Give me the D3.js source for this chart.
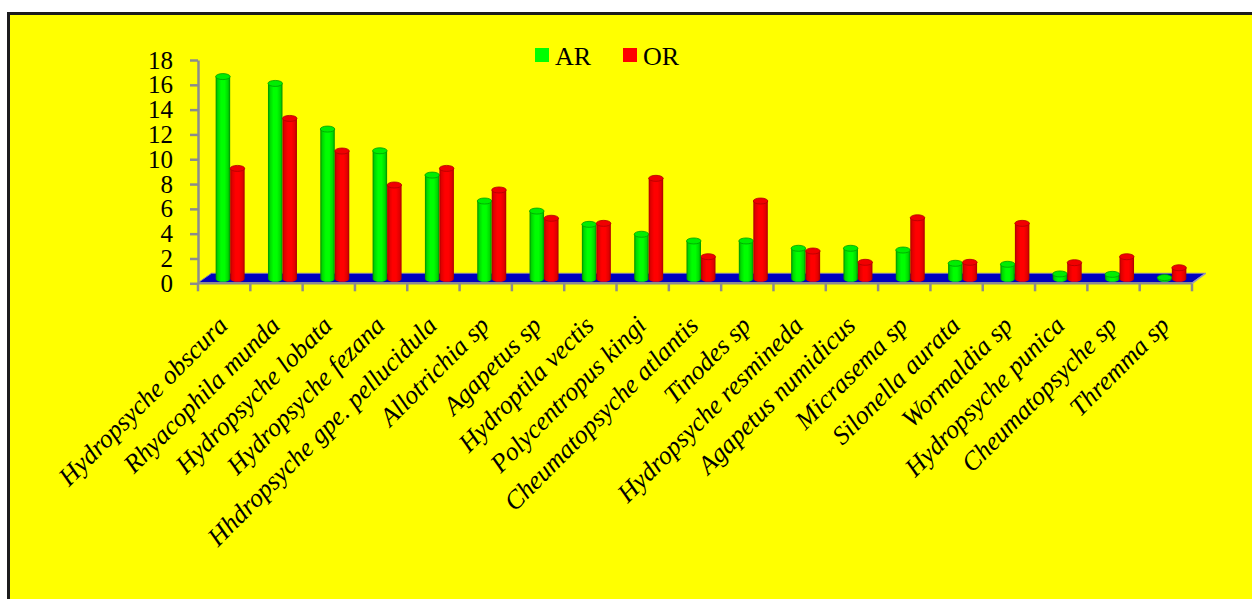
<!DOCTYPE html>
<html>
<head>
<meta charset="utf-8">
<script src="https://cdn.jsdelivr.net/npm/d3@7"></script>
<style>
  html, body { margin: 0; padding: 0; background: #ffffff; }
  svg { display: block; }
</style>
</head>
<body>
<svg id="chart" width="1252" height="599"></svg>
<script>
// Caddisfly taxa and their AR / OR percentages
const categories = [
  "Hydropsyche obscura", "Rhyacophila munda", "Hydropsyche lobata",
  "Hydropsyche fezana", "Hhdropsyche gpe. pellucidula", "Allotrichia sp",
  "Agapetus sp", "Hydroptila vectis", "Polycentropus kingi",
  "Cheumatopsyche atlantis", "Tinodes sp", "Hydropsyche resmineda",
  "Agapetus numidicus", "Micrasema sp", "Silonella aurata",
  "Wormaldia sp", "Hydropsyche punica", "Cheumatopsyche sp", "Thremma sp"
];
const arValues = [16.3, 15.75, 12.07, 10.32, 8.36, 6.27, 5.46, 4.39, 3.59, 3.05,
                  3.05, 2.46, 2.46, 2.32, 1.25, 1.17, 0.39, 0.36, 0.1];
const orValues = [8.9, 12.93, 10.3, 7.56, 8.9, 7.16, 4.88, 4.47, 8.1, 1.78,
                  6.27, 2.24, 1.33, 4.92, 1.33, 4.47, 1.3, 1.78, 0.89];
const yTicks = [0, 2, 4, 6, 8, 10, 12, 14, 16, 18];
const seriesNames = ["AR", "OR"];
const seriesColors = ["#00ff00", "#ff0000"];

const svg = d3.select("#chart");
const W = 1252, H = 599;

// Plot geometry
const plot = { left: 198, right: 1192, top: 60, bottom: 283.3 };
const depth = { dx: 13.5, dy: -10 };      // floor depth offset
const barDepth = { dx: 6, dy: -4.5 };     // bars stand mid-floor
const barW = 14.5, ry = 3;

const x = d3.scaleBand().domain(categories).range([plot.left, plot.right]).padding(0);
const y = d3.scaleLinear().domain([0, 18]).range([plot.bottom, plot.top]);

// Background panel with frame
svg.append("rect").attr("x", 0).attr("y", 0).attr("width", W).attr("height", H).attr("fill", "#ffffff");
svg.append("rect")
  .attr("x", 8.5).attr("y", 13.5).attr("width", 1400).attr("height", 800)
  .attr("fill", "#ffff00").attr("stroke", "#1c1c1c").attr("stroke-width", 3);

// Gradients for the cylinders
const defs = svg.append("defs");
function cylGrad(id, dark, mid, light) {
  const g = defs.append("linearGradient").attr("id", id)
    .attr("x1", "0%").attr("x2", "100%").attr("y1", "0%").attr("y2", "0%");
  [[0, dark], [0.14, mid], [0.38, light], [0.62, light], [0.86, mid], [1, dark]]
    .forEach(([o, c]) => g.append("stop").attr("offset", o).attr("stop-color", c));
}
cylGrad("gGreen", "#008c00", "#00d800", "#00ff00");
cylGrad("gRed", "#a80000", "#e00000", "#ff0000");

// Floor
const fl = [
  [plot.left, plot.bottom - 0.5],
  [plot.right, plot.bottom - 0.5],
  [plot.right + depth.dx, plot.bottom + depth.dy],
  [plot.left + depth.dx, plot.bottom + depth.dy]
];
svg.append("path")
  .attr("d", d3.line()(fl) + "Z")
  .attr("fill", "#0000c0")
  .attr("stroke", "#8080a8").attr("stroke-width", 1);

// Y axis
const yAxis = d3.axisLeft(y).tickValues(yTicks).tickSize(8).tickSizeOuter(0).tickPadding(17);
const yg = svg.append("g").attr("transform", `translate(${plot.left},0)`).call(yAxis);
yg.select(".domain").attr("stroke", "#8c8c8c").attr("stroke-width", 2.5);
yg.selectAll(".tick line").attr("stroke", "#8c8c8c").attr("stroke-width", 2.5);
yg.selectAll(".tick text")
  .attr("font-family", "'Liberation Serif', 'Times New Roman', serif")
  .attr("font-size", 25).attr("fill", "#000");

// Category axis: front line and tick marks at band boundaries
const bounds = categories.map(c => x(c)).concat([x(categories[categories.length - 1]) + x.bandwidth()]);
svg.append("line")
  .attr("x1", plot.left).attr("x2", plot.right)
  .attr("y1", plot.bottom).attr("y2", plot.bottom)
  .attr("stroke", "#8c8c8c").attr("stroke-width", 2.5);
svg.append("g").selectAll("line").data(bounds).join("line")
  .attr("x1", d => d).attr("x2", d => d)
  .attr("y1", plot.bottom).attr("y2", plot.bottom + 8)
  .attr("stroke", "#8c8c8c").attr("stroke-width", 2.5);
svg.append("line")
  .attr("x1", plot.right).attr("y1", plot.bottom)
  .attr("x2", plot.right + depth.dx).attr("y2", plot.bottom + depth.dy)
  .attr("stroke", "#9a9ab8").attr("stroke-width", 1.5);

// Cylinders
const rows = categories.map((c, i) => ({ c, v: [arValues[i], orValues[i]] }));
const grads = ["url(#gGreen)", "url(#gRed)"];
const tops = ["#00ee00", "#f00000"];
const rims = ["#00a000", "#b00000"];

const bars = svg.append("g");
rows.forEach(r => {
  const cx = x(r.c) + x.bandwidth() / 2 + barDepth.dx;
  r.v.forEach((v, s) => {
    const x0 = s === 0 ? cx - barW : cx;
    const yb = y(0) + barDepth.dy;
    const yt = y(v) + barDepth.dy;
    const rx = barW / 2;
    const g = bars.append("g");
    g.append("path")
      .attr("d", `M${x0},${yt} L${x0},${yb} A${rx},${ry} 0 0 0 ${x0 + barW},${yb} L${x0 + barW},${yt} Z`)
      .attr("fill", grads[s]);
    g.append("ellipse")
      .attr("cx", x0 + rx).attr("cy", yt).attr("rx", rx).attr("ry", ry)
      .attr("fill", tops[s]).attr("stroke", rims[s]).attr("stroke-width", 0.8);
  });
});

// Rotated italic category labels
svg.append("g").selectAll("text").data(categories).join("text")
  .attr("transform", d => `translate(${x(d) + x.bandwidth() / 2 + 5},${327}) rotate(-45)`)
  .attr("text-anchor", "end")
  .attr("font-family", "'Liberation Serif', 'Times New Roman', serif")
  .attr("font-style", "italic")
  .attr("font-size", 26)
  .attr("fill", "#000")
  .text(d => d);

// Legend
const legend = svg.append("g");
const legX = [535, 623];
seriesNames.forEach((n, i) => {
  legend.append("rect").attr("x", legX[i]).attr("y", 48).attr("width", 14).attr("height", 14)
    .attr("fill", seriesColors[i]);
  legend.append("text").attr("x", legX[i] + 20).attr("y", 65)
    .attr("font-family", "'Liberation Serif', 'Times New Roman', serif")
    .attr("font-size", 26).attr("fill", "#000").text(n);
});
</script>
</body>
</html>
